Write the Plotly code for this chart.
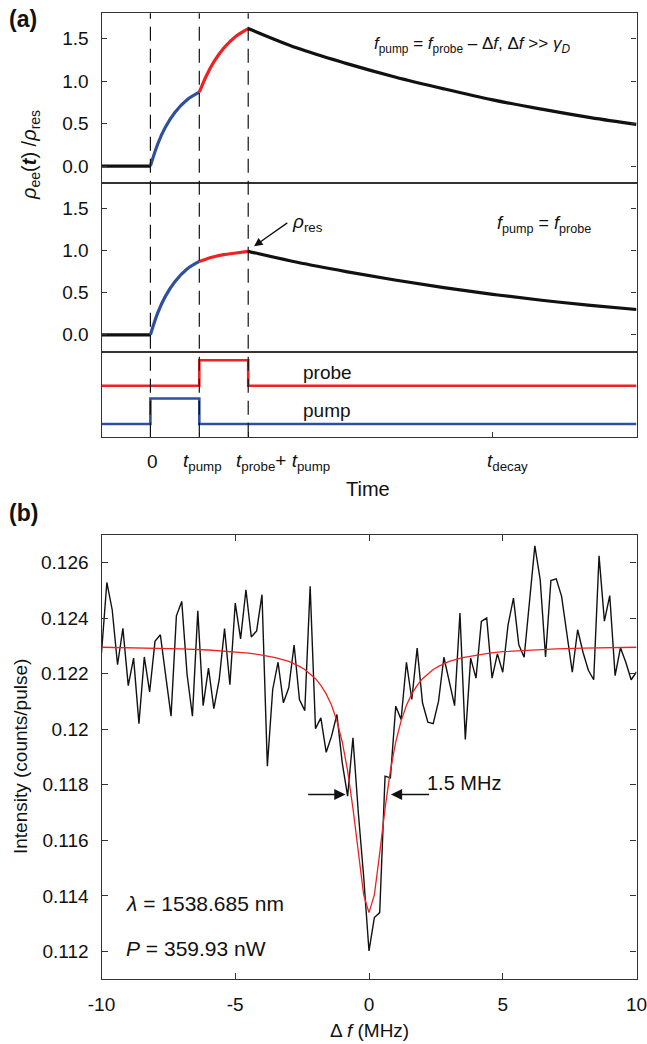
import plotly.graph_objects as go

# ---------------- Panel (a): schematic population curves ----------------
t_base = [-1, 0]
rho_base = [0, 0]
t_pump_rise = [0, 0.15, 0.3, 0.5, 0.75, 1.0]
rho_pump_rise = [0, 0.26, 0.45, 0.63, 0.78, 0.87]
t_probe_rise = [1.0, 1.15, 1.3, 1.5, 1.75, 2.0]
rho_probe_rise_detuned = [0.87, 1.07, 1.23, 1.39, 1.53, 1.62]
rho_probe_rise_res = [0.87, 0.90, 0.926, 0.95, 0.97, 0.99]
t_decay = [2, 3, 4, 5, 6, 7, 8, 9, 9.94]
rho_decay_detuned = [1.62, 1.39, 1.21, 1.05, 0.91, 0.78, 0.67, 0.57, 0.49]
rho_decay_res = [0.99, 0.86, 0.75, 0.65, 0.56, 0.48, 0.41, 0.35, 0.30]

# pulse sequence
t_probe_pulse = [-1, 1, 1, 2, 2, 9.94]
probe_level = [0.6, 0.6, 0.9, 0.9, 0.6, 0.6]
t_pump_pulse = [-1, 0, 0, 1, 1, 9.94]
pump_level = [0.15, 0.15, 0.45, 0.45, 0.15, 0.15]
t_markers = [0, 1, 2]
t_ticks = [0, 1, 2, 7]

# ---------------- Panel (b): measured spectrum ----------------
detuning = [-10.0, -9.8, -9.6, -9.4, -9.2, -9.0, -8.8, -8.6, -8.4, -8.2,
            -8.0, -7.8, -7.6, -7.4, -7.2, -7.0, -6.8, -6.6, -6.4, -6.2,
            -6.0, -5.8, -5.6, -5.4, -5.2, -5.0, -4.8, -4.6, -4.4, -4.2,
            -4.0, -3.8, -3.6, -3.4, -3.2, -3.0, -2.8, -2.6, -2.4, -2.2,
            -2.0, -1.8, -1.6, -1.4, -1.2, -1.0, -0.8, -0.6, -0.4, -0.2,
            0.0, 0.2, 0.4, 0.6, 0.8, 1.0, 1.2, 1.4, 1.6, 1.8,
            2.0, 2.2, 2.4, 2.6, 2.8, 3.0, 3.2, 3.4, 3.6, 3.8,
            4.0, 4.2, 4.4, 4.6, 4.8, 5.0, 5.2, 5.4, 5.6, 5.8,
            6.0, 6.2, 6.4, 6.6, 6.8, 7.0, 7.2, 7.4, 7.6, 7.8,
            8.0, 8.2, 8.4, 8.6, 8.8, 9.0, 9.2, 9.4, 9.6, 9.8,
            10.0]
intensity = [0.12274, 0.12528, 0.12430, 0.12232, 0.12363, 0.12157, 0.12256, 0.12020, 0.12260, 0.12134,
             0.12316, 0.12340, 0.12193, 0.12047, 0.12408, 0.12460, 0.12196, 0.12047, 0.12426, 0.12085,
             0.12220, 0.12074, 0.12178, 0.12362, 0.12160, 0.12454, 0.12325, 0.12502, 0.12332, 0.12354,
             0.12484, 0.11867, 0.12143, 0.12241, 0.12095, 0.12149, 0.12303, 0.12107, 0.12067, 0.12514,
             0.12002, 0.12041, 0.11917, 0.11975, 0.12053, 0.11879, 0.11759, 0.11969, 0.11700, 0.11470,
             0.11202, 0.11322, 0.11340, 0.11831, 0.11825, 0.12083, 0.12035, 0.12241, 0.12107, 0.12292,
             0.12095, 0.12025, 0.12020, 0.12101, 0.12259, 0.12172, 0.12085, 0.12418, 0.11963, 0.12256,
             0.12184, 0.12388, 0.12400, 0.12184, 0.12271, 0.12205, 0.12376, 0.12472, 0.12304, 0.12259,
             0.12466, 0.12660, 0.12538, 0.12260, 0.12535, 0.12541, 0.12478, 0.12346, 0.12205, 0.12358,
             0.12277, 0.12212, 0.12178, 0.12624, 0.12389, 0.12481, 0.12193, 0.12293, 0.12241, 0.12178,
             0.12206]
fit_detuning = [-10, -9, -8, -7, -6, -5, -4.5, -4, -3.5, -3, -2.8, -2.6, -2.4, -2.2, -2.0,
                -1.8, -1.6, -1.4, -1.2, -1.0, -0.8, -0.6, -0.4, -0.2, 0,
                0.2, 0.4, 0.6, 0.8, 1.0, 1.2, 1.4, 1.6, 1.8,
                2.0, 2.2, 2.4, 2.6, 2.8, 3, 3.5, 4, 4.5, 5, 6, 7, 8, 9, 10]
fit_intensity = [0.12295, 0.12293, 0.12292, 0.12289, 0.12285, 0.12279, 0.12274, 0.12267, 0.12258, 0.12244,
                 0.12236, 0.12226, 0.12215, 0.12200, 0.12182,
                 0.12158, 0.12127, 0.12086, 0.12030, 0.11954, 0.11851, 0.11715, 0.11553, 0.11404, 0.11340,
                 0.11404, 0.11553, 0.11715, 0.11851, 0.11954, 0.12030, 0.12086, 0.12127, 0.12158,
                 0.12182, 0.12200, 0.12215, 0.12226, 0.12236, 0.12244, 0.12258, 0.12267, 0.12274, 0.12279,
                 0.12285, 0.12289, 0.12292, 0.12293, 0.12295]
b_xticks = [-10, -5, 0, 5, 10]
b_xticktext = ["-10", "-5", "0", "5", "10"]
b_yticks = [0.112, 0.114, 0.116, 0.118, 0.12, 0.122, 0.124, 0.126]
b_yticktext = ["0.112", "0.114", "0.116", "0.118", "0.12", "0.122", "0.124", "0.126"]
a_yticks = [0, 0.5, 1.0, 1.5]
a_yticktext = ["0.0", "0.5", "1.0", "1.5"]

W, H = 647, 1044
BLUE = "#2f4f9f"
RED = "#ee2222"
BLACK = "#111111"
AX = "#333333"
FONT = "Liberation Sans, Arial, sans-serif"


def px(x):
    return x / W


def py(y):
    return 1 - y / H


XL, XR = 101.5, 636.5
dom_x = [px(XL), px(XR)]
dom_y1 = [py(183), py(13.3)]
dom_y2 = [py(351.7), py(183)]
dom_y3 = [py(436.7), py(351.7)]
dom_y4 = [py(979.3), py(534.7)]

fig = go.Figure()

curve_w = 3.2
for ax_suffix, rise, decay in [("", rho_probe_rise_detuned, rho_decay_detuned),
                               ("2", rho_probe_rise_res, rho_decay_res)]:
    xa, ya = "x" + ax_suffix, "y" + ax_suffix
    fig.add_trace(go.Scatter(x=t_base, y=rho_base, mode="lines", line=dict(color=BLACK, width=curve_w),
                             xaxis=xa, yaxis=ya, showlegend=False))
    fig.add_trace(go.Scatter(x=t_pump_rise, y=rho_pump_rise, mode="lines",
                             line=dict(color=BLUE, width=curve_w, shape="spline"),
                             xaxis=xa, yaxis=ya, showlegend=False))
    fig.add_trace(go.Scatter(x=t_probe_rise, y=rise, mode="lines",
                             line=dict(color=RED, width=curve_w, shape="spline"),
                             xaxis=xa, yaxis=ya, showlegend=False))
    fig.add_trace(go.Scatter(x=t_decay, y=decay, mode="lines",
                             line=dict(color=BLACK, width=curve_w, shape="spline"),
                             xaxis=xa, yaxis=ya, showlegend=False))

fig.add_trace(go.Scatter(x=t_probe_pulse, y=probe_level, mode="lines", line=dict(color=RED, width=2.6),
                         xaxis="x3", yaxis="y3", showlegend=False))
fig.add_trace(go.Scatter(x=t_pump_pulse, y=pump_level, mode="lines", line=dict(color=BLUE, width=2.6),
                         xaxis="x3", yaxis="y3", showlegend=False))

fig.add_trace(go.Scatter(x=detuning, y=intensity, mode="lines", line=dict(color=BLACK, width=1.4),
                         xaxis="x4", yaxis="y4", showlegend=False))
fig.add_trace(go.Scatter(x=fit_detuning, y=fit_intensity, mode="lines", line=dict(color=RED, width=1.3),
                         xaxis="x4", yaxis="y4", showlegend=False))

common = dict(showline=True, linecolor=AX, linewidth=1.3, showgrid=False, zeroline=False, automargin=False,
              tickfont=dict(family=FONT, size=19, color="#111"), tickcolor=AX, tickwidth=1.2,
              ticklabeloverflow="allow")

tr = [-1, 9.94]
fig.update_layout(
    template="none",
    width=W, height=H, margin=dict(l=0, r=0, t=0, b=0, autoexpand=False),
    paper_bgcolor="white", plot_bgcolor="white",
    font=dict(family=FONT, color="#111"),
    xaxis=dict(domain=dom_x, range=tr, anchor="y", mirror=True, showticklabels=False, ticks="", **common),
    yaxis=dict(domain=dom_y1, range=[-0.2, 1.8], anchor="x", mirror="ticks", ticks="inside", ticklen=5,
               tickvals=a_yticks, ticktext=a_yticktext, ticklabelstandoff=8, **common),
    xaxis2=dict(domain=dom_x, range=tr, anchor="y2", mirror=True, showticklabels=False, ticks="", **common),
    yaxis2=dict(domain=dom_y2, range=[-0.2, 1.8], anchor="x2", mirror="ticks", ticks="inside", ticklen=5,
                tickvals=a_yticks, ticktext=a_yticktext, ticklabelstandoff=8, **common),
    xaxis3=dict(domain=dom_x, range=tr, anchor="y3", mirror=True, showticklabels=False, ticks="inside",
                ticklen=5, tickvals=t_ticks, **common),
    yaxis3=dict(domain=dom_y3, range=[0, 1], anchor="x3", mirror=True, showticklabels=False, ticks="", **common),
    xaxis4=dict(domain=dom_x, range=[-10, 10], anchor="y4", mirror="ticks", ticks="inside", ticklen=6,
                tickvals=b_xticks, ticktext=b_xticktext, ticklabelstandoff=8, **common),
    yaxis4=dict(domain=dom_y4, range=[0.111, 0.127], anchor="x4", mirror="ticks", ticks="inside", ticklen=6,
                tickvals=b_yticks, ticktext=b_yticktext, ticklabelstandoff=8, **common),
)

# dashed markers spanning panel (a)
for tm in t_markers:
    fig.add_shape(type="line", xref="x3", yref="paper", x0=tm, x1=tm, y0=py(436.7), y1=py(13.3),
                  line=dict(color=BLACK, width=1.2, dash="14px,8px"), layer="above")

ann = []


def A(text, x, y, xref="paper", yref="paper", size=19, xanchor="center", yanchor="middle", **kw):
    d = dict(text=text, x=x, y=y, xref=xref, yref=yref, showarrow=False, xanchor=xanchor, yanchor=yanchor,
             font=dict(family=FONT, size=size, color="#111"))
    d.update(kw)
    ann.append(d)


A("<b>(a)</b>", px(7), py(19), size=23, xanchor="left")
A("<b>(b)</b>", px(7), py(513), size=23, xanchor="left")
A("<i>ρ</i><sub>ee</sub>(<i><b>t</b></i>) /<i>ρ</i><sub>res</sub>", px(30), py(155), size=20, textangle=-90)
A("<i>f</i><sub>pump</sub> = <i>f</i><sub>probe</sub> – Δ<i>f</i>, Δ<i>f</i> >> <i>γ</i><sub><i>D</i></sub>",
  px(472), py(45), size=17)
A("<i>f</i><sub>pump</sub> = <i>f</i><sub>probe</sub>", px(544), py(225), size=18)
A("<i>ρ</i><sub>res</sub>", 2.85, 1.33, xref="x2", yref="y2", size=19, xanchor="left")
ann.append(dict(x=2.12, y=1.05, ax=2.83, ay=1.34, xref="x2", yref="y2", axref="x2", ayref="y2",
                showarrow=True, arrowhead=2, arrowsize=1.3, arrowwidth=1.3, arrowcolor=BLACK, text=""))
A("probe", 3.62, 0.76, xref="x3", yref="y3", size=19)
A("pump", 3.62, 0.31, xref="x3", yref="y3", size=19)
A("0", 0.05, py(462), xref="x3", size=19)
A("<i>t</i><sub>pump</sub>", 0.62, py(462), xref="x3", size=19, xanchor="left")
A("<i>t</i><sub>probe</sub>+ <i>t</i><sub>pump</sub>", 1.7, py(462), xref="x3", size=19, xanchor="left")
A("<i>t</i><sub>decay</sub>", 6.84, py(462), xref="x3", size=19, xanchor="left")
A("Time", px(368), py(489), size=20)

A("Intensity (counts/pulse)", px(20), py(757), size=19, textangle=-90)
A("Δ <i>f</i> (MHz)", px(369), py(1030), size=19)
A("<i>λ</i> = 1538.685 nm", px(124), py(903), size=21, xanchor="left")
A("<i>P</i> = 359.93 nW", px(124), py(948), size=21, xanchor="left")
A("1.5 MHz", px(425), py(783), size=20, xanchor="left")
ann.append(dict(x=-0.88, y=0.11765, ax=-2.33, ay=0.11765, xref="x4", yref="y4", axref="x4", ayref="y4",
                showarrow=True, arrowhead=2, arrowsize=1.6, arrowwidth=1.4, arrowcolor=BLACK, text=""))
ann.append(dict(x=0.82, y=0.11765, ax=2.3, ay=0.11765, xref="x4", yref="y4", axref="x4", ayref="y4",
                showarrow=True, arrowhead=2, arrowsize=1.6, arrowwidth=1.4, arrowcolor=BLACK, text=""))

fig.update_layout(annotations=ann)
fig.write_html("out.html", config={"displayModeBar": False},
               post_script="document.body.style.margin='0';document.body.style.overflow='hidden';")
